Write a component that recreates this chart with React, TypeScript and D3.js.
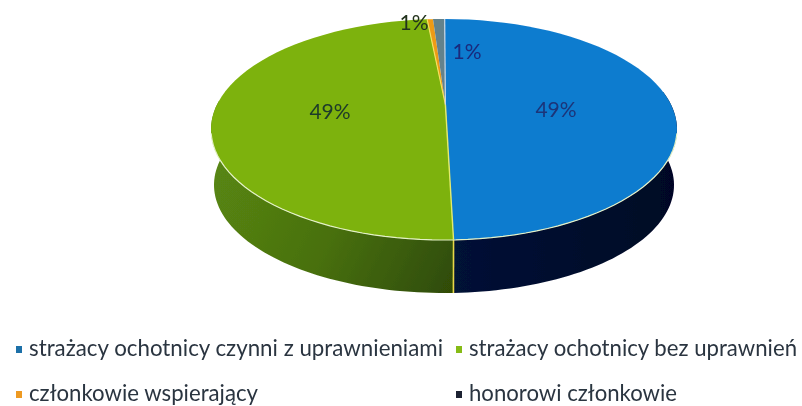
import React from "react";
import * as d3 from "d3";

const categories = [
  "strażacy ochotnicy czynni z uprawnieniami",
  "strażacy ochotnicy bez uprawnień",
  "członkowie wspierający",
  "honorowi członkowie",
];
const values = [49.3, 49.5, 0.4, 0.8];
const pieLabels = ["49%", "49%", "1%", "1%"];
const topColors = ["#0c7bcf", "#7db208", "#ee9a12", "#64828c"];
const legendColors = ["#1f6fa8", "#86bb12", "#ee9a22", "#1e2430"];

const W = 802, H = 406;
const xTop = d3.scaleLinear().domain([-1, 1]).range([211, 677]);
const yTop = d3.scaleLinear().domain([-1, 1]).range([19, 240]);
const xBot = d3.scaleLinear().domain([-1, 1]).range([214, 674]);
const yBot = d3.scaleLinear().domain([-1, 1]).range([77, 293]);

const arcs = d3.pie<number>().sort(null).startAngle(0.003).endAngle(2 * Math.PI + 0.003)(values);
const apex: [number, number] = [xTop(0.006), yTop(-0.225)];
const line = d3.line();

const steps = (a0: number, a1: number) => d3.range(0, 61).map((i) => a0 + ((a1 - a0) * i) / 60);
const pt = (x: d3.ScaleLinear<number, number>, y: d3.ScaleLinear<number, number>, a: number): [number, number] => [
  x(Math.sin(a)),
  y(-Math.cos(a)),
];
const slicePath = (a0: number, a1: number) =>
  line([apex, ...steps(a0, a1).map((a) => pt(xTop, yTop, a))])! + "Z";
const sidePath = (a0: number, a1: number) =>
  line([
    ...steps(a0, a1).map((a) => pt(xTop, yTop, a)),
    ...steps(a1, a0).map((a) => pt(xBot, yBot, a)),
  ])! + "Z";

const split = arcs[0].endAngle;
const rad = Math.PI / 180;
const font = "Lato, 'Open Sans', sans-serif";

const labelPos: [number, number][] = [[556, 112], [330, 114], [414, 25], [467, 54]];
const labelFill = ["#1c3478", "#1d3a2c", "#22331e", "#1a2a7c"];
const squareX = [16, 456, 16, 456];
const textX = [29, 469, 29, 469];
const rowY = [349, 349, 394, 394];
const textLen = [414, 328, 229, 208];

export default function App() {
  return (
    <svg width={W} height={H} viewBox={`0 0 ${W} ${H}`} style={{ position: "fixed", left: 0, top: 0, background: "#fff" }}>
      <defs>
        <filter id="soft" x="-5%" y="-5%" width="110%" height="110%">
          <feGaussianBlur stdDeviation="0.6" />
        </filter>
        <linearGradient id="greenSide" gradientUnits="userSpaceOnUse" x1="212" y1="170" x2="454" y2="290">
          <stop offset="0" stopColor="#588612" />
          <stop offset="0.5" stopColor="#487010" />
          <stop offset="1" stopColor="#2f4b06" />
        </linearGradient>
        <linearGradient id="blueSide" x1="0" y1="0" x2="1" y2="0">
          <stop offset="0" stopColor="#061236" />
          <stop offset="1" stopColor="#050625" />
        </linearGradient>
      </defs>
      <g filter="url(#soft)">
        <path d={sidePath(70 * rad, split)} fill="url(#blueSide)" />
        <path d={sidePath(split, 285 * rad)} fill="url(#greenSide)" />
        <line x1={xTop(Math.sin(split))} y1={yTop(-Math.cos(split))} x2={xBot(Math.sin(split))} y2={yBot(-Math.cos(split))} stroke="#e6d84a" strokeWidth={1.6} />
        {arcs.map((d, i) => (
          <path key={i} d={slicePath(d.startAngle, d.endAngle)} fill={topColors[i]} />
        ))}
        <path d={line(steps(92 * rad, 268 * rad).map((a) => pt(xTop, yTop, a)))!} fill="none" stroke="#e4f2c8" strokeWidth={1.2} />
        <path d={line([apex, pt(xTop, yTop, split)])!} fill="none" stroke="#e3ea70" strokeWidth={1.4} />
        <path d={line([apex, pt(xTop, yTop, arcs[1].endAngle)])!} fill="none" stroke="#f3e060" strokeWidth={1.2} />
        <path d={line([apex, pt(xTop, yTop, arcs[3].endAngle)])!} fill="none" stroke="#c8d8e8" strokeWidth={1.2} />
        {pieLabels.map((t, i) => (
          <text key={i} x={labelPos[i][0]} y={labelPos[i][1]} textAnchor="middle" dominantBaseline="middle" fontFamily={font} fontSize={21} fill={labelFill[i]}>
            {t}
          </text>
        ))}
        {categories.map((c, i) => (
          <g key={c}>
            <rect x={squareX[i]} y={rowY[i] - 3} width={6} height={7} fill={legendColors[i]} />
            <text x={textX[i]} y={rowY[i] + 7} fontFamily={font} fontSize={22.5} fill="#2a3440" textLength={textLen[i]} lengthAdjust="spacingAndGlyphs">
              {c}
            </text>
          </g>
        ))}
      </g>
    </svg>
  );
}
